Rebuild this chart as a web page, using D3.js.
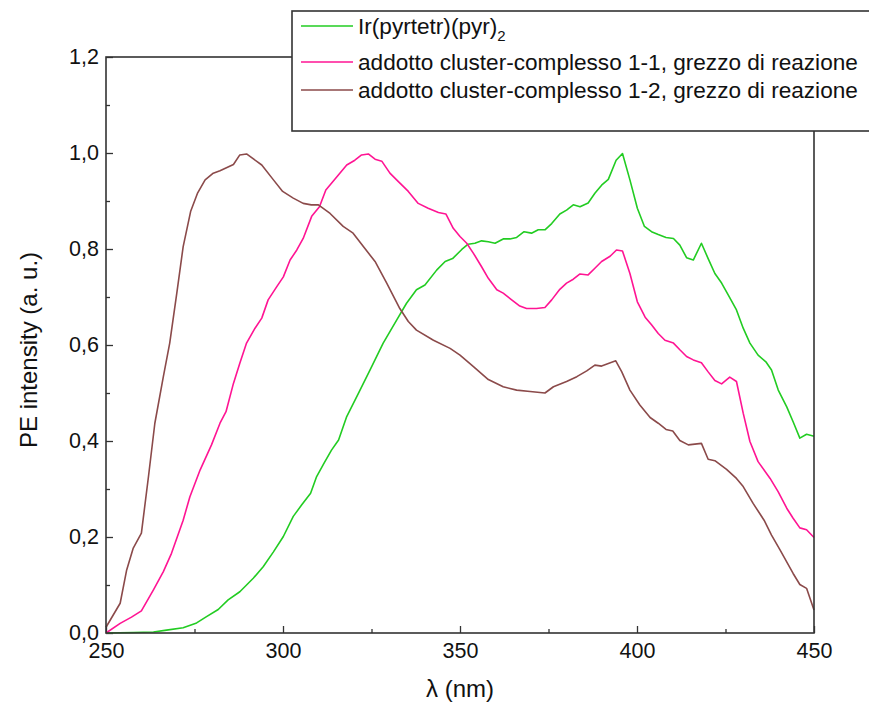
<!DOCTYPE html>
<html>

<head>
    <meta charset="utf-8">
    <title></title>
    <script src="https://d3js.org/d3.v7.min.js"></script>
    <style>
        html,
        body {
            margin: 0;
            padding: 0;
            background: white;
        }

        text {
            font-family: "Liberation Sans", Arial, sans-serif;
            fill: #111;
        }
    </style>
</head>

<body>

    <div id="chart"></div>

    <script>
        // Wavelength (nm) / intensity pairs
        const greenX = [250, 257.7, 263.4, 267.1, 271.8, 275.6, 278.4, 281.7, 284.5, 287.8, 291.6, 294.4, 297.3, 300.1, 302.9, 305.3, 307.8, 309.5, 311.6, 313.7, 315.7, 318.0, 321.3, 324.6, 328.3, 332.1, 334.9, 337.7, 340.1, 343.4, 345.8, 347.9, 350.5, 352.3, 354.2, 356.1, 358.0, 359.9, 362.2, 364.1, 366.0, 368.1, 370.2, 372.1, 374.0, 375.9, 378.2, 380.1, 382.0, 383.9, 386.2, 388.1, 390.0, 391.9, 394.1, 395.9, 398.0, 400.1, 402.1, 404.1, 406.0, 408.2, 410.3, 412.1, 414.0, 415.9, 418.2, 420.1, 422.0, 423.9, 425.8, 428.1, 430.0, 431.9, 434.2, 436.4, 438.0, 439.9, 442.3, 444.1, 446.0, 447.9, 450];
        const greenY = [0, 0.001, 0.002, 0.006, 0.011, 0.021, 0.034, 0.049, 0.069, 0.086, 0.114, 0.138, 0.169, 0.201, 0.243, 0.267, 0.291, 0.326, 0.354, 0.381, 0.402, 0.451, 0.499, 0.548, 0.604, 0.652, 0.687, 0.715, 0.725, 0.756, 0.774, 0.780, 0.799, 0.810, 0.812, 0.817, 0.815, 0.812, 0.821, 0.821, 0.824, 0.836, 0.833, 0.840, 0.840, 0.853, 0.873, 0.881, 0.892, 0.888, 0.896, 0.916, 0.933, 0.945, 0.985, 0.999, 0.944, 0.885, 0.847, 0.836, 0.830, 0.824, 0.822, 0.808, 0.782, 0.777, 0.812, 0.780, 0.749, 0.729, 0.704, 0.673, 0.635, 0.604, 0.579, 0.565, 0.548, 0.506, 0.471, 0.440, 0.406, 0.414, 0.410];

        const pinkX = [250, 254, 257.2, 260, 263.4, 266.2, 268.5, 271.8, 273.7, 276.6, 279.8, 282.2, 283.9, 286, 287.8, 289.7, 292.1, 294, 295.8, 298.2, 300.1, 302, 303.9, 305.7, 308.1, 310.3, 312.1, 314.7, 318, 320.3, 322.2, 324.1, 326, 327.9, 330.2, 332.1, 335.4, 338.2, 341, 343.9, 346, 348.1, 350, 351.9, 353.8, 356.1, 358, 360.4, 362.2, 364.6, 366.9, 368.8, 371.6, 374, 375.9, 378.2, 380.1, 382, 383.9, 386.2, 388.1, 390, 392.4, 394.2, 395.9, 398, 400.1, 402.3, 404.1, 406, 407.9, 410.3, 412.1, 414, 415.9, 418.2, 420.1, 422, 423.9, 426.2, 428.1, 430, 431.9, 434.2, 437.6, 439.9, 442.3, 444.1, 446, 447.9, 450];
        const pinkY = [0, 0.02, 0.033, 0.046, 0.09, 0.128, 0.166, 0.235, 0.284, 0.34, 0.392, 0.437, 0.461, 0.52, 0.562, 0.604, 0.635, 0.656, 0.694, 0.721, 0.742, 0.777, 0.798, 0.822, 0.868, 0.888, 0.923, 0.946, 0.975, 0.985, 0.996, 0.998, 0.987, 0.983, 0.958, 0.944, 0.92, 0.895, 0.885, 0.876, 0.873, 0.843, 0.826, 0.812, 0.791, 0.763, 0.739, 0.715, 0.708, 0.694, 0.681, 0.676, 0.676, 0.678, 0.694, 0.716, 0.729, 0.737, 0.748, 0.746, 0.76, 0.774, 0.785, 0.798, 0.796, 0.749, 0.69, 0.658, 0.642, 0.624, 0.61, 0.604, 0.59, 0.576, 0.569, 0.563, 0.544, 0.526, 0.519, 0.533, 0.524, 0.458, 0.399, 0.357, 0.322, 0.294, 0.26, 0.239, 0.219, 0.215, 0.199];

        const brownX = [250, 254, 255.8, 257.7, 260, 262, 263.8, 266.2, 268, 270, 271.8, 273.9, 275.9, 278, 280.3, 282.2, 286, 287.8, 289.7, 294, 297.3, 299.9, 302.9, 305.7, 308, 310, 313.3, 317, 319.8, 322.7, 326, 329.3, 333, 335.4, 337.7, 342.5, 347.2, 350, 353.8, 358, 362.2, 366, 369.8, 374, 376.4, 380.1, 383, 385.8, 388.1, 390, 394, 395.7, 398, 400.8, 403.7, 406, 408.2, 410.1, 412.1, 414.5, 418.2, 420.1, 422, 425.3, 428.1, 430, 432.8, 435.9, 438, 440.4, 444.1, 446, 447.9, 450];
        const brownY = [0.012, 0.062, 0.13, 0.177, 0.208, 0.326, 0.437, 0.534, 0.604, 0.708, 0.805, 0.878, 0.917, 0.944, 0.958, 0.963, 0.976, 0.996, 0.998, 0.975, 0.944, 0.92, 0.906, 0.895, 0.892, 0.892, 0.874, 0.847, 0.833, 0.805, 0.774, 0.729, 0.676, 0.649, 0.631, 0.61, 0.593, 0.579, 0.555, 0.528, 0.513, 0.506, 0.503, 0.5, 0.513, 0.524, 0.534, 0.546, 0.558, 0.556, 0.567, 0.544, 0.506, 0.475, 0.449, 0.437, 0.424, 0.421, 0.401, 0.392, 0.395, 0.362, 0.359, 0.341, 0.322, 0.305, 0.27, 0.235, 0.204, 0.173, 0.124, 0.101, 0.093, 0.048];

        const seriesNames = ["Ir(pyrtetr)(pyr)", "addotto cluster-complesso 1-1, grezzo di reazione", "addotto cluster-complesso 1-2, grezzo di reazione"];
        const seriesColors = ["#22cc22", "#ff1493", "#8b4a4a"];

        const xTicks = [250, 300, 350, 400, 450];
        const yTicks = [0, 0.2, 0.4, 0.6, 0.8, 1.0, 1.2];

        const series = [
            { name: seriesNames[0], color: seriesColors[0], values: greenX.map((x, i) => ({ x, y: greenY[i] })) },
            { name: seriesNames[1], color: seriesColors[1], values: pinkX.map((x, i) => ({ x, y: pinkY[i] })) },
            { name: seriesNames[2], color: seriesColors[2], values: brownX.map((x, i) => ({ x, y: brownY[i] })) },
        ];

        // Set up margins and dimensions
        const totalW = 869, totalH = 704;
        const margins = { top: 57, right: 55, bottom: 71, left: 106 };
        const width = totalW - margins.left - margins.right;   // 708
        const height = totalH - margins.top - margins.bottom;  // 576

        const canvas = d3.select("#chart")
            .append("svg")
            .attr("width", totalW)
            .attr("height", totalH);

        canvas.append("rect")
            .attr("width", totalW)
            .attr("height", totalH)
            .style("fill", "white");

        const chartArea = canvas.append("g")
            .attr("transform", `translate(${margins.left},${margins.top})`);

        // Scales
        const xScale = d3.scaleLinear().domain([250, 450]).range([0, width]);
        const yScale = d3.scaleLinear().domain([0, 1.2]).range([height, 0]);

        const comma = (v) => d3.format(".1f")(v).replace(".", ",");

        // Minor ticks (inward, short)
        chartArea.append("g")
            .attr("transform", `translate(0,${height})`)
            .call(d3.axisBottom(xScale).tickValues([275, 325, 375, 425]).tickSize(-4).tickFormat(""))
            .call(g => g.select(".domain").remove());
        chartArea.append("g")
            .call(d3.axisLeft(yScale).tickValues([0.1, 0.3, 0.5, 0.7, 0.9, 1.1]).tickSize(-4).tickFormat(""))
            .call(g => g.select(".domain").remove());

        // Major axes
        const xAxis = chartArea.append("g")
            .attr("transform", `translate(0,${height})`)
            .call(d3.axisBottom(xScale).tickValues(xTicks).tickSize(-7).tickSizeOuter(0).tickPadding(10).tickFormat(d3.format("d")));

        const yAxis = chartArea.append("g")
            .call(d3.axisLeft(yScale).tickValues(yTicks).tickSize(-7).tickSizeOuter(0).tickPadding(7).tickFormat(comma));

        [xAxis, yAxis].forEach(a => {
            a.selectAll("text").style("font-size", "21.5px").attr("fill", "#111");
            a.select(".domain").remove();
        });
        chartArea.selectAll(".tick line").attr("stroke", "#333").attr("stroke-width", 1.3);

        // Lines
        const line = d3.line()
            .x(d => xScale(d.x))
            .y(d => yScale(d.y));

        series.forEach(s => {
            chartArea.append("path")
                .datum(s.values)
                .attr("fill", "none")
                .attr("stroke", s.color)
                .attr("stroke-width", 1.6)
                .attr("stroke-linejoin", "round")
                .attr("d", line);
        });

        // Frame
        chartArea.append("rect")
            .attr("width", width)
            .attr("height", height)
            .attr("fill", "none")
            .attr("stroke", "#333")
            .attr("stroke-width", 1.6);

        // Axis titles
        canvas.append("text")
            .attr("x", margins.left + width / 2)
            .attr("y", 697)
            .attr("text-anchor", "middle")
            .style("font-size", "24px")
            .text("λ (nm)");

        canvas.append("text")
            .attr("transform", `translate(37,${margins.top + height / 2 + 5}) rotate(-90)`)
            .attr("text-anchor", "middle")
            .style("font-size", "24px")
            .text("PE intensity (a. u.)");

        // Legend
        const legend = canvas.append("g").attr("transform", "translate(292,11)");
        legend.append("rect")
            .attr("width", 620)
            .attr("height", 120)
            .attr("fill", "white")
            .attr("stroke", "#333")
            .attr("stroke-width", 1.6);

        const rowY = [15, 51, 79];
        series.forEach((s, i) => {
            const entry = legend.append("g").attr("transform", `translate(0,${rowY[i]})`);
            entry.append("line")
                .attr("x1", 9).attr("x2", 61)
                .attr("stroke", s.color)
                .attr("stroke-width", 1.6);
            const t = entry.append("text")
                .attr("x", 66)
                .attr("y", 8)
                .style("font-size", "22.6px")
                .text(s.name);
            if (i === 0) {
                t.append("tspan").attr("dy", 7).style("font-size", "15px").text("2");
            }
        });
    </script>
</body>

</html>
